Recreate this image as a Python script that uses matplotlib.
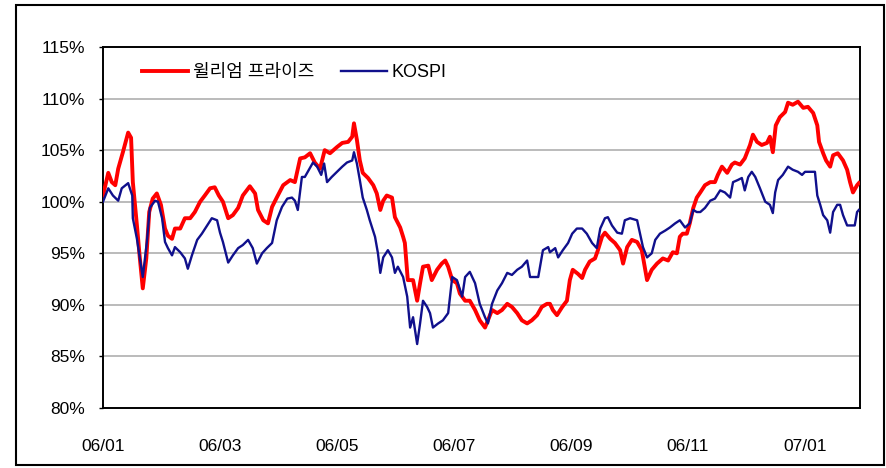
import matplotlib
matplotlib.use("Agg")
import matplotlib.pyplot as plt
from matplotlib.patches import Rectangle

plt.rcParams['font.family'] = ['Liberation Sans', 'Noto Sans CJK KR', 'DejaVu Sans']

# x = months since 2006-01 (0 = 06/01, 12 = 07/01), y = index level in %
price_x = [0.00, 0.09, 0.15, 0.21, 0.26, 0.34, 0.43, 0.48, 0.51, 0.58, 0.63, 0.68, 0.74, 0.79,
           0.85, 0.92, 0.99, 1.06, 1.11, 1.18, 1.23, 1.32, 1.40, 1.49, 1.57, 1.66, 1.74, 1.83,
           1.91, 1.98, 2.05, 2.14, 2.22, 2.31, 2.39, 2.51, 2.60, 2.65, 2.74, 2.82, 2.89, 2.97,
           3.08, 3.20, 3.28, 3.37, 3.45, 3.54, 3.62, 3.71, 3.79, 3.88, 4.00, 4.09, 4.19, 4.26,
           4.29, 4.34, 4.39, 4.44, 4.53, 4.62, 4.68, 4.74, 4.79, 4.85, 4.94, 4.99, 5.08, 5.13,
           5.16, 5.21, 5.30, 5.37, 5.42, 5.47, 5.56, 5.62, 5.71, 5.79, 5.85, 5.90, 5.97, 6.05,
           6.10, 6.19, 6.27, 6.36, 6.44, 6.53, 6.58, 6.65, 6.74, 6.82, 6.91, 6.99, 7.08, 7.16,
           7.25, 7.33, 7.42, 7.50, 7.59, 7.64, 7.69, 7.76, 7.85, 7.93, 7.98, 8.03, 8.12, 8.19,
           8.24, 8.32, 8.41, 8.46, 8.53, 8.58, 8.67, 8.75, 8.84, 8.89, 8.96, 9.04, 9.13, 9.21,
           9.26, 9.30, 9.38, 9.47, 9.57, 9.66, 9.74, 9.81, 9.86, 9.91, 9.98, 10.03, 10.09, 10.15,
           10.21, 10.29, 10.38, 10.46, 10.51, 10.58, 10.67, 10.75, 10.80, 10.89, 10.97, 11.06,
           11.11, 11.18, 11.26, 11.35, 11.40, 11.45, 11.50, 11.57, 11.66, 11.71, 11.79, 11.88,
           11.97, 12.05, 12.14, 12.21, 12.24, 12.31, 12.36, 12.43, 12.48, 12.56, 12.65, 12.72,
           12.77, 12.82, 12.89, 12.92]
price_y = [100.6, 102.8, 101.9, 101.6, 103.2, 104.8, 106.7, 106.2, 101.9, 97.7, 94.5, 91.6, 94.5, 99.0,
           100.3, 100.8, 99.7, 97.4, 96.7, 96.4, 97.4, 97.4, 98.4, 98.4, 99.0, 100.0, 100.6, 101.3,
           101.4, 100.6, 100.0, 98.4, 98.7, 99.4, 100.6, 101.5, 100.8, 99.2, 98.2, 97.9, 99.5, 100.4,
           101.6, 102.1, 101.9, 104.2, 104.3, 104.7, 103.8, 103.2, 105.0, 104.7, 105.3, 105.7, 105.8, 106.3,
           107.6, 106.0, 104.0, 102.8, 102.3, 101.6, 100.8, 99.2, 100.1, 100.6, 100.4, 98.5, 97.5, 96.6,
           96.0, 92.4, 92.4, 90.4, 92.1, 93.7, 93.8, 92.4, 93.4, 94.0, 94.3, 93.7, 92.4, 92.1,
           91.1, 90.4, 90.4, 89.5, 88.5, 87.8, 88.5, 89.5, 89.2, 89.5, 90.1, 89.8, 89.2, 88.5,
           88.2, 88.5, 89.0, 89.8, 90.1, 90.1, 89.5, 89.0, 89.8, 90.4, 92.4, 93.4, 93.0, 92.6,
           93.4, 94.2, 94.5, 95.3, 96.6, 97.0, 96.4, 96.0, 95.3, 94.0, 95.6, 96.3, 96.1, 95.3,
           93.7, 92.4, 93.4, 94.0, 94.5, 94.3, 95.1, 95.0, 96.6, 96.9, 96.9, 97.9, 99.4, 100.4,
           100.9, 101.6, 101.9, 101.9, 102.6, 103.4, 102.8, 103.6, 103.8, 103.6, 104.2, 105.5,
           106.5, 105.8, 105.5, 105.7, 106.3, 104.8, 107.4, 108.2, 108.7, 109.6, 109.4, 109.7,
           109.1, 109.2, 108.6, 107.4, 105.8, 104.7, 104.0, 103.4, 104.5, 104.7, 104.0, 103.1,
           101.9, 100.9, 101.6, 101.8]

kospi_x = [0.00, 0.09, 0.17, 0.26, 0.32, 0.43, 0.50, 0.51, 0.58, 0.63, 0.68, 0.75, 0.80, 0.89,
           0.94, 1.01, 1.06, 1.11, 1.18, 1.23, 1.32, 1.40, 1.45, 1.52, 1.61, 1.69, 1.78, 1.86,
           1.95, 2.00, 2.05, 2.14, 2.22, 2.31, 2.39, 2.48, 2.56, 2.63, 2.72, 2.80, 2.89, 2.97,
           3.06, 3.15, 3.23, 3.28, 3.33, 3.40, 3.45, 3.52, 3.59, 3.66, 3.73, 3.78, 3.83, 3.91,
           4.00, 4.09, 4.17, 4.26, 4.29, 4.34, 4.39, 4.44, 4.51, 4.56, 4.65, 4.70, 4.74, 4.79,
           4.87, 4.94, 4.99, 5.04, 5.13, 5.20, 5.25, 5.30, 5.37, 5.42, 5.47, 5.54, 5.59, 5.64,
           5.73, 5.81, 5.90, 5.97, 6.05, 6.14, 6.19, 6.27, 6.36, 6.44, 6.53, 6.58, 6.65, 6.74,
           6.82, 6.91, 6.99, 7.08, 7.16, 7.25, 7.30, 7.44, 7.52, 7.61, 7.64, 7.73, 7.78, 7.86,
           7.95, 8.02, 8.10, 8.19, 8.27, 8.36, 8.44, 8.50, 8.58, 8.63, 8.70, 8.79, 8.87, 8.92,
           9.01, 9.13, 9.18, 9.23, 9.30, 9.38, 9.44, 9.52, 9.61, 9.69, 9.78, 9.86, 9.95, 10.03,
           10.09, 10.15, 10.21, 10.29, 10.38, 10.46, 10.55, 10.63, 10.72, 10.77, 10.85, 10.92,
           10.97, 11.03, 11.09, 11.15, 11.23, 11.32, 11.40, 11.45, 11.49, 11.54, 11.62, 11.71,
           11.79, 11.88, 11.95, 12.00, 12.17, 12.21, 12.26, 12.31, 12.38, 12.43, 12.48, 12.55,
           12.60, 12.65, 12.72, 12.85, 12.89, 12.92]
kospi_y = [100.0, 101.3, 100.6, 100.1, 101.3, 101.8, 100.6, 98.4, 96.4, 94.5, 92.7, 96.1, 99.4, 100.1,
           100.0, 98.4, 96.1, 95.5, 94.8, 95.6, 95.1, 94.5, 93.5, 94.8, 96.3, 96.9, 97.7, 98.4,
           98.2, 97.0, 96.1, 94.1, 94.8, 95.5, 95.8, 96.3, 95.5, 94.0, 95.0, 95.5, 96.0, 98.2,
           99.5, 100.3, 100.4, 100.1, 99.2, 102.4, 102.4, 103.1, 103.8, 103.4, 102.6, 103.7, 101.9, 102.4,
           102.9, 103.4, 103.8, 104.0, 104.8, 103.7, 102.1, 100.4, 99.2, 98.2, 96.6, 95.0, 93.1, 94.6,
           95.3, 94.6, 93.1, 93.7, 92.7, 90.8, 87.8, 88.8, 86.2, 88.2, 90.4, 89.8, 89.2, 87.8,
           88.2, 88.5, 89.2, 92.7, 92.4, 90.8, 92.7, 93.2, 92.1, 90.1, 88.8, 88.2, 90.1, 91.4,
           92.1, 93.1, 92.9, 93.4, 93.7, 94.3, 92.7, 92.7, 95.3, 95.6, 95.1, 95.5, 94.6, 95.3,
           96.0, 96.9, 97.4, 97.4, 96.9, 96.0, 95.5, 97.4, 98.4, 98.5, 97.7, 97.0, 96.9, 98.2,
           98.4, 98.2, 96.9, 95.6, 94.6, 95.0, 96.3, 96.9, 97.2, 97.5, 97.9, 98.2, 97.5, 97.9,
           99.2, 99.0, 99.0, 99.4, 100.1, 100.3, 101.1, 100.9, 100.4, 101.9, 102.1, 102.3,
           101.1, 102.4, 102.9, 102.4, 101.3, 100.0, 99.7, 98.9, 100.9, 102.1, 102.6, 103.4,
           103.1, 102.9, 102.6, 102.9, 102.9, 100.6, 99.7, 98.7, 98.2, 97.0, 99.0, 99.7,
           99.7, 98.7, 97.7, 97.7, 99.0, 99.2]

tick_months = [0, 2, 4, 6, 8, 10, 12]
tick_labels = ['06/01', '06/03', '06/05', '06/07', '06/09', '06/11', '07/01']
y_ticks = [80, 85, 90, 95, 100, 105, 110, 115]

fig = plt.figure(figsize=(8.87, 4.68), dpi=100)
ax = fig.add_axes([103 / 887, 1 - 408 / 468, 757 / 887, 361 / 468])

ax.plot(price_x, price_y, color='#ff0000', linewidth=2.8, label='윌리엄 프라이즈', zorder=3)
ax.plot(kospi_x, kospi_y, color='#10108c', linewidth=1.7, label='KOSPI', zorder=4)

ax.set_xlim(0, 12.94)
ax.set_ylim(80, 115)
ax.set_yticks(y_ticks)
ax.set_yticklabels([f'{v}%' for v in y_ticks])
ax.set_xticks(tick_months)
ax.set_xticklabels(tick_labels)
ax.tick_params(axis='y', length=3, width=1, pad=10, labelsize=12.5)
ax.tick_params(axis='x', length=0, pad=22, labelsize=12.5)

for v in y_ticks[1:-1]:
    ax.axhline(v, color='#a8a8a8', linewidth=1.1, zorder=1)

for s in ax.spines.values():
    s.set_linewidth(1.4)
    s.set_color('black')

leg = ax.legend(loc='center left', bbox_to_anchor=(0.052, 0.928), ncol=2, frameon=False,
                fontsize=13, handlelength=2.55, handletextpad=0.25, columnspacing=1.5,
                borderpad=0, borderaxespad=0)

# outer frame of the picture
fig.patches.append(Rectangle((16 / 887, 3 / 468), 868 / 887, 460 / 468, transform=fig.transFigure,
                             fill=False, edgecolor='black', linewidth=1.5))

fig.savefig('out.png', dpi=100)
